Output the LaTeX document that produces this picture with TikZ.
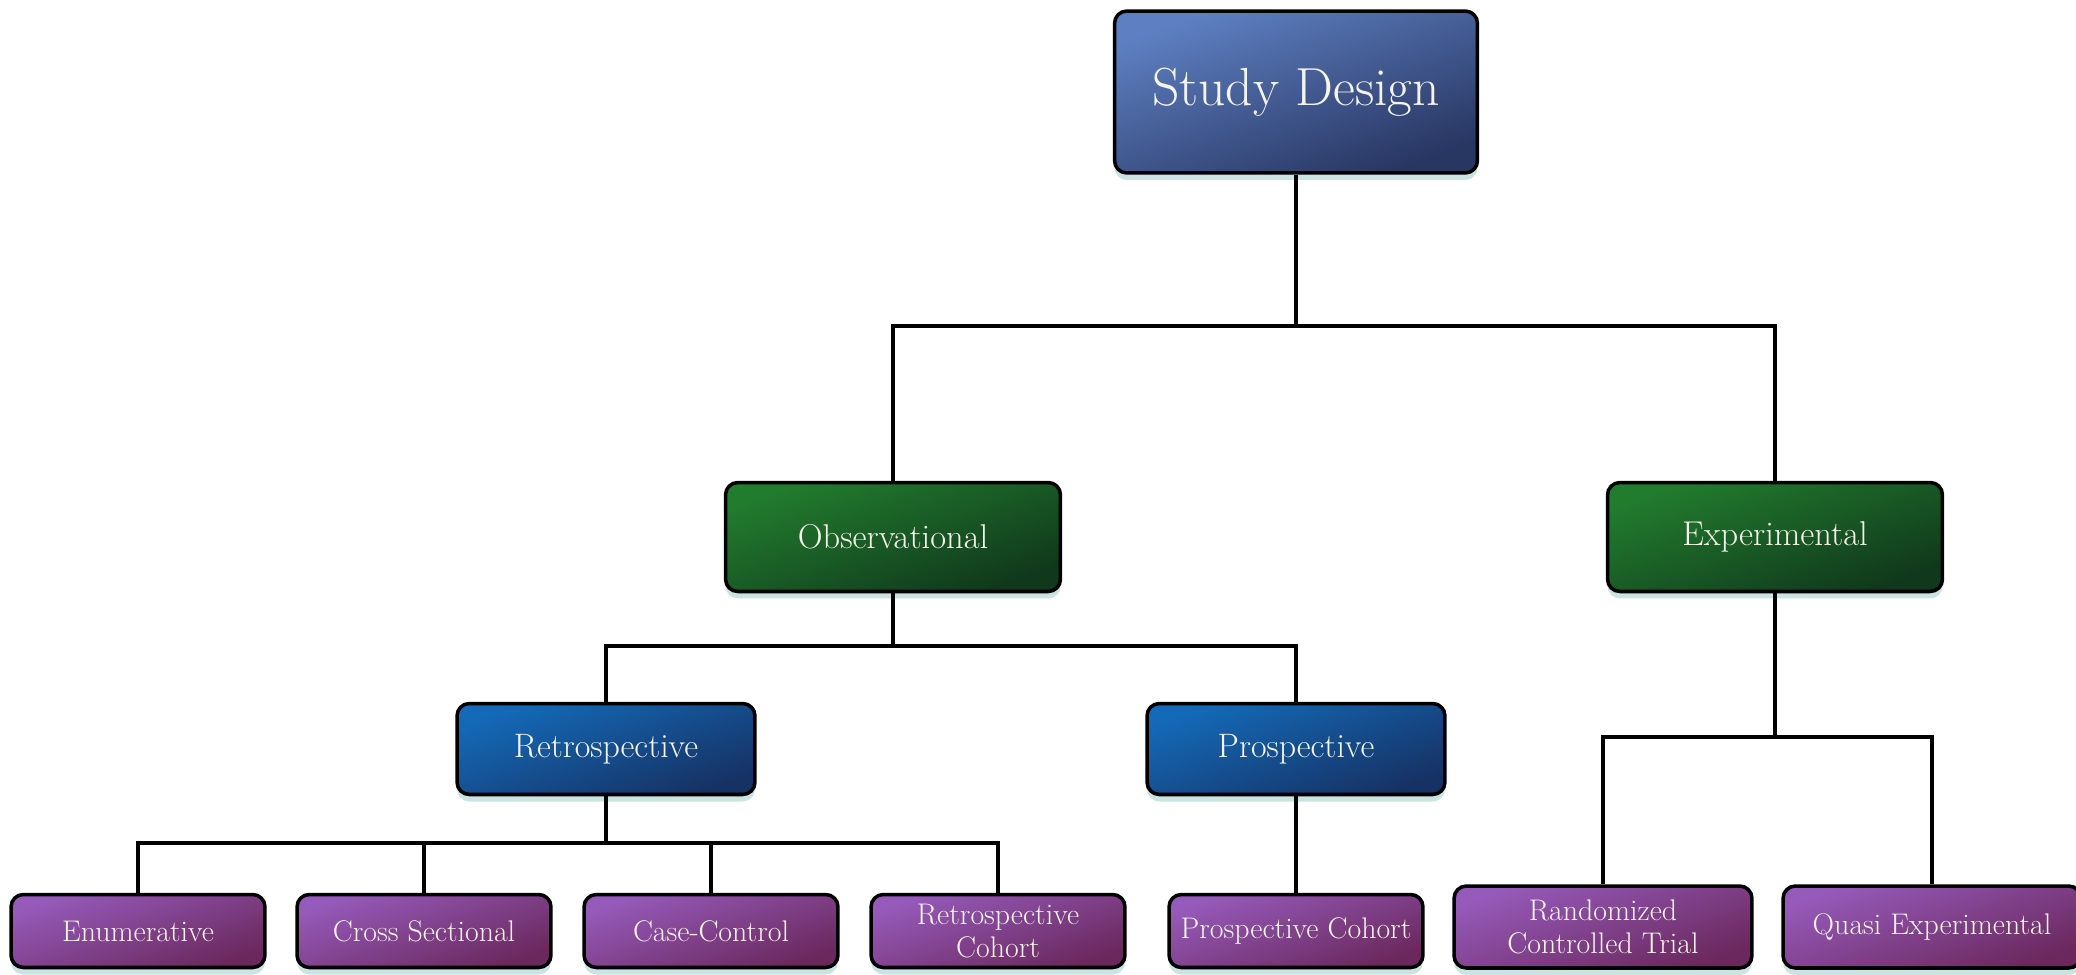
\documentclass[tikz,border=0pt]{standalone}
\usetikzlibrary{shadows}

\definecolor{rootTop}{RGB}{94,128,194}
\definecolor{rootBot}{RGB}{40,54,98}
\definecolor{grpTop}{RGB}{34,124,46}
\definecolor{grpBot}{RGB}{16,56,28}
\definecolor{branchTop}{RGB}{20,106,184}
\definecolor{branchBot}{RGB}{22,50,100}
\definecolor{leafTop}{RGB}{150,90,186}
\definecolor{leafBot}{RGB}{106,40,92}
\definecolor{labelText}{RGB}{246,244,234}
\definecolor{glow}{RGB}{160,204,200}

\begin{document}
\begin{tikzpicture}[
    x=0.02cm, y=-0.02cm,
    % Node styles
    box/.style 2 args={
        rectangle, rounded corners=7pt, draw=black, line width=2pt,
        top color=#1, bottom color=#2, shading angle=20,
        text=labelText, align=center, inner sep=2pt,
        drop shadow={shadow xshift=0pt, shadow yshift=-0.14cm,
            fill=glow, opacity=0.55}
    },
    rootbox/.style={box={rootTop}{rootBot},
        minimum width=7.26cm, minimum height=3.24cm,
        font=\fontsize{30.5}{34}\selectfont},
    groupbox/.style={box={grpTop}{grpBot},
        minimum width=6.7cm, minimum height=2.18cm,
        font=\fontsize{19.6}{23}\selectfont},
    branchbox/.style={box={branchTop}{branchBot},
        minimum width=5.96cm, minimum height=1.82cm,
        font=\fontsize{19.3}{23}\selectfont},
    leafbox/.style={box={leafTop}{leafBot},
        minimum width=5.08cm, minimum height=1.46cm,
        font=\fontsize{17}{19}\selectfont},
    wideleaf/.style={leafbox, minimum width=5.96cm, minimum height=1.64cm},
    conn/.style={draw=black, line width=1.8pt},
]
\useasboundingbox (0,0) rectangle (2076,974);

% ═══════════════════════════════════════════════════════════════
% Top of the tree
% ═══════════════════════════════════════════════════════════════
\node[rootbox] (SD) at (1296,92) {Study Design};

\node[groupbox] (OBS) at (893,537) {Observational};
\node[groupbox] (EXP) at (1775,537) {Experimental};

% ═══════════════════════════════════════════════════════════════
% Observational branch
% ═══════════════════════════════════════════════════════════════
\node[branchbox] (RETRO) at (606,749) {Retrospective};
\node[branchbox] (PROS) at (1296,749) {Prospective};

\node[leafbox] (ENUM)  at (138,931)  {Enumerative};
\node[leafbox] (CROSS) at (424,931)  {Cross Sectional};
\node[leafbox] (CC)    at (711,931)  {Case-Control};
\node[leafbox] (RCOH)  at (998,931)  {Retrospective\\Cohort};
\node[leafbox] (PCOH)  at (1296,931) {Prospective Cohort};

% ═══════════════════════════════════════════════════════════════
% Experimental branch
% ═══════════════════════════════════════════════════════════════
\node[wideleaf] (RCT)   at (1603,927) {Randomized\\Controlled Trial};
\node[wideleaf] (QUASI) at (1932,927) {Quasi Experimental};

% Junctions
\coordinate (J1) at (1296,326);
\coordinate (J2) at (893,646);
\coordinate (J3) at (1775,737);
\coordinate (J4) at (606,843);

% Connectors
\draw[conn] (SD.south) -- (J1);
\draw[conn] (OBS.north) |- (J1) -| (EXP.north);
\draw[conn] (OBS.south) -- (J2);
\draw[conn] (RETRO.north) |- (J2) -| (PROS.north);
\draw[conn] (EXP.south) -- (J3);
\draw[conn] (RCT.north) |- (J3) -| (QUASI.north);
\draw[conn] (RETRO.south) -- (J4);
\draw[conn] (ENUM.north) |- (J4) -| (RCOH.north);
\draw[conn] (CROSS.north) |- (J4);
\draw[conn] (CC.north) |- (J4);
\draw[conn] (PROS.south) -- (PCOH.north);

\end{tikzpicture}
\end{document}
